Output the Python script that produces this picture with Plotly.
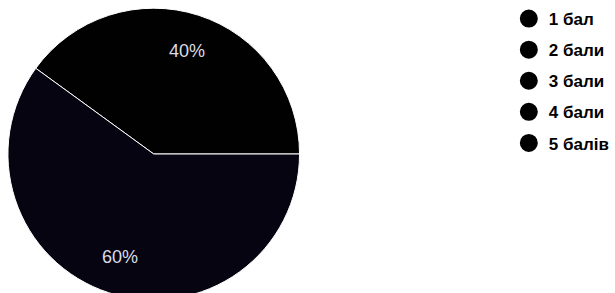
import math
import plotly.graph_objects as go

categories = ["1 бал", "2 бали", "3 бали", "4 бали", "5 балів"]
values = [0, 0, 0, 40, 60]
slice_colors = ["#000000", "#000000", "#000000", "#010102", "#050410"]
legend_color = "#000000"

W, H = 615, 310
cx, cy, r = 155, 154, 147  # pie placement in pixels
label_r = 0.74

fig = go.Figure()
fig.add_trace(go.Pie(
    labels=categories,
    values=values,
    sort=False,
    direction="counterclockwise",
    rotation=90,
    marker=dict(colors=slice_colors, line=dict(color="#ffffff", width=1)),
    textinfo="none",
    showlegend=False,
    hoverinfo="label+percent",
    domain=dict(x=[(cx - r) / W, (cx + r) / W], y=[1 - (cy + r) / H, 1 - (cy - r) / H]),
))

# percentage labels placed at mid-angle of each slice (counterclockwise from 3 o'clock)
total = sum(values)
cum = 0.0
for c, v in zip(categories, values):
    if v > 0:
        mid = (cum + v / 2) / total * 2 * math.pi
        px = cx + label_r * r * math.cos(mid)
        py = cy - label_r * r * math.sin(mid)
        fig.add_annotation(
            x=px / W, y=1 - py / H, xref="paper", yref="paper",
            xanchor="center", yanchor="middle",
            text=f"{round(v / total * 100)}%", showarrow=False,
            font=dict(family="Liberation Sans", size=18, color="#dcdce4"),
        )
    cum += v

for i, c in enumerate(categories):
    fig.add_trace(go.Scatter(
        x=[None], y=[None], mode="markers", name=c,
        legendgroup=str(i),
        marker=dict(symbol="circle", size=16, color=legend_color,
                    line=dict(color=legend_color, width=2)),
    ))

fig.update_layout(
    width=W, height=H,
    margin=dict(l=0, r=0, t=0, b=0),
    paper_bgcolor="#ffffff",
    plot_bgcolor="#ffffff",
    xaxis=dict(visible=False),
    yaxis=dict(visible=False),
    legend=dict(
        x=513 / W, y=1 - 1 / H, xanchor="left", yanchor="top",
        font=dict(family="Liberation Sans", size=17, color="#000000", weight="bold"),
        tracegroupgap=6,
        bgcolor="rgba(0,0,0,0)",
    ),
)

fig.write_html(
    "out.html",
    config={"displayModeBar": False},
    post_script="document.body.style.margin='0';document.body.style.overflow='hidden';",
)
